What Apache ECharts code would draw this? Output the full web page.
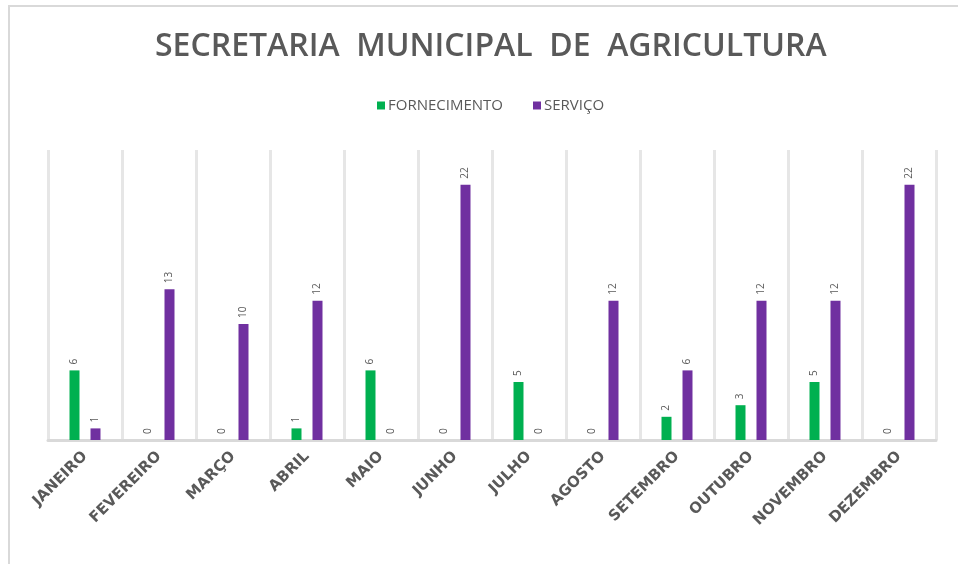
<!DOCTYPE html>
<html>
<head>
<meta charset="utf-8">
<script src="https://cdn.jsdelivr.net/npm/echarts@6/dist/echarts.min.js"></script>
<style>
  html, body { margin: 0; padding: 0; background: #fff; }
  #frame { position: absolute; left: 8px; top: 5px; width: 980px; height: 600px; border-left: 2px solid #d9d9d9; border-top: 2px solid #d9d9d9; }
  #chart { position: absolute; left: 0; top: 0; width: 958px; height: 564px; }
</style>
</head>
<body>
<div id="frame"></div>
<div id="chart"></div>
<script>
const titleText = 'SECRETARIA  MUNICIPAL  DE  AGRICULTURA';
const months = ['JANEIRO', 'FEVEREIRO', 'MARÇO', 'ABRIL', 'MAIO', 'JUNHO', 'JULHO', 'AGOSTO', 'SETEMBRO', 'OUTUBRO', 'NOVEMBRO', 'DEZEMBRO'];
const fornecimento = [6, 0, 0, 1, 6, 0, 5, 0, 2, 3, 5, 0];
const servico = [1, 13, 10, 12, 0, 22, 0, 12, 6, 12, 12, 22];

const labelCfg = {
  show: true,
  position: 'top',
  rotate: 90,
  align: 'left',
  verticalAlign: 'middle',
  distance: 6,
  color: '#595959',
  fontSize: 10,
  fontFamily: 'Open Sans'
};

const chart = echarts.init(document.getElementById('chart'), null, { renderer: 'canvas' });
chart.setOption({
  backgroundColor: 'transparent',
  animation: false,
  title: {
    text: titleText,
    left: 150,
    top: 26,
    textStyle: { fontFamily: 'Open Sans', fontSize: 32, fontWeight: 600, color: '#595959' }
  },
  legend: {
    top: 93,
    left: 372,
    itemWidth: 8,
    itemHeight: 8,
    itemGap: 30,
    icon: 'rect',
    textStyle: { fontFamily: 'Open Sans', fontSize: 15, color: '#595959', padding: [0, 0, 0, -2] },
    data: ['FORNECIMENTO', 'SERVIÇO']
  },
  grid: { left: 48, right: 22, top: 150, bottom: 124, containLabel: false },
  xAxis: {
    type: 'category',
    data: months,
    boundaryGap: true,
    axisLine: { show: true, lineStyle: { color: '#d9d9d9', width: 3 } },
    axisTick: { show: false },
    splitLine: { show: true, lineStyle: { color: '#e6e6e6', width: 3 } },
    axisLabel: {
      interval: 0,
      rotate: 45,
      margin: 14,
      color: '#595959',
      fontFamily: 'DejaVu Sans',
      fontWeight: 'bold',
      fontSize: 15
    }
  },
  yAxis: {
    type: 'value',
    min: 0,
    max: 25,
    show: false,
    splitLine: { show: false }
  },
  series: [
    {
      name: 'FORNECIMENTO',
      type: 'bar',
      data: fornecimento,
      barWidth: 10,
      barGap: '110%',
      itemStyle: { color: '#00B050' },
      label: labelCfg
    },
    {
      name: 'SERVIÇO',
      type: 'bar',
      data: servico,
      barWidth: 10,
      barGap: '110%',
      itemStyle: { color: '#7030A0' },
      label: labelCfg
    }
  ]
});
</script>
</body>
</html>
